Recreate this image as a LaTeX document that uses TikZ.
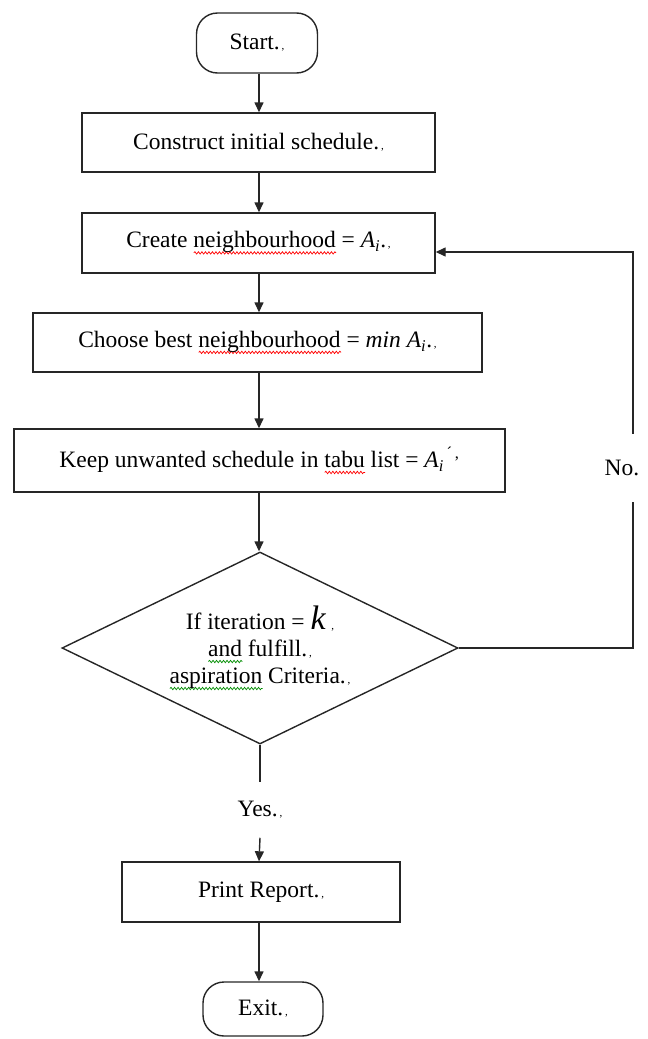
\documentclass[tikz,border=0pt]{standalone}
\usepackage{fontspec}
\setmainfont{Liberation Serif}
\usetikzlibrary{arrows.meta,shapes.geometric,decorations.pathmorphing}

% spell-check squiggles
\newsavebox\squigbox
\newcommand\squig[2]{\sbox\squigbox{#2}\leavevmode\rlap{\tikz[baseline={(0pt,5pt)}]
  \draw[#1,line width=0.7pt,decorate,decoration={snake,amplitude=1.2pt,segment length=3.5pt}]
  (0pt,0pt) -- (\wd\squigbox,0pt);}\usebox\squigbox}
\newcommand\pmk{{\fontsize{11}{11}\selectfont\,,}}

\begin{document}
\begin{tikzpicture}[x=1pt,y=-1pt,
  every node/.style={font=\fontsize{23.5}{27}\selectfont},
  proc/.style={draw=black!85,line width=1.4pt,minimum height=59pt,inner sep=0pt},
  term/.style={draw=black!85,line width=1.4pt,rounded corners=21pt,minimum width=121pt,minimum height=60pt},
  cond/.style={draw=black!85,line width=1.4pt,diamond,aspect=2,inner sep=0pt,align=center,minimum width=396pt,minimum height=192pt},
  arr/.style={-{Triangle[length=10pt,width=9pt]},line width=1.4pt,black!85},
  link/.style={line width=1.4pt,black!85}]
  \useasboundingbox (0,0) rectangle (648,1039);
  \coordinate (spine) at (259,0);
  \coordinate (rail) at (633,0);
  % boxes
  \node[term] (start) at (257,43) {Start.\pmk};
  \node[proc,minimum width=353pt] (build) at (258.5,142.5) {Construct initial schedule.\pmk};
  \node[proc,minimum width=353pt,minimum height=60pt] (hood) at (258.5,243)
    {Create \squig{red}{neighbourhood} = \textit{A}\textsubscript{\textit{i}}.\pmk};
  \node[proc,minimum width=449pt] (best) at (257.5,342.5)
    {Choose best \squig{red}{neighbourhood} = \textit{min A}\textsubscript{\textit{i}}.\pmk};
  \node[proc,minimum width=491pt,minimum height=63pt] (tabu) at (259.5,460.5)
    {Keep unwanted schedule in \squig{red}{tabu} list = \textit{A}\textsubscript{\textit{i}}\textsuperscript{\,\textasciiacute\,,}};
  \node[cond] (check) at (260,648)
    {If iteration = {\fontsize{34}{27}\selectfont\itshape k}\,\pmk\\
     \squig{green!55!black}{and} fulfill.\pmk\\
     \squig{green!55!black}{aspiration} Criteria.\pmk};
  \node[proc,minimum width=278pt,minimum height=60pt] (report) at (261,892) {Print Report.\pmk};
  \node[term,minimum width=120pt,minimum height=54pt] (exit) at (263,1009) {Exit.\pmk};
  % labels
  \node[inner ysep=19pt] (yes) at (260,810) {Yes.\pmk};
  \node[inner ysep=26pt] (no) at (622,468) {No.};
  % main flow
  \foreach \a/\b in {start/build, build/hood, hood/best, best/tabu, tabu/check, report/exit}
    \draw[arr] (\a.south -| spine) -- (\b.north -| spine);
  \draw[link] (check.south) -- (yes.north);
  \draw[arr] (yes.south) -- (report.north -| spine);
  % loop back
  \draw[link] (check.east) -| (no.south -| rail);
  \draw[arr] (no.north -| rail) |- ([yshift=-9pt]hood.east);
\end{tikzpicture}
\end{document}
